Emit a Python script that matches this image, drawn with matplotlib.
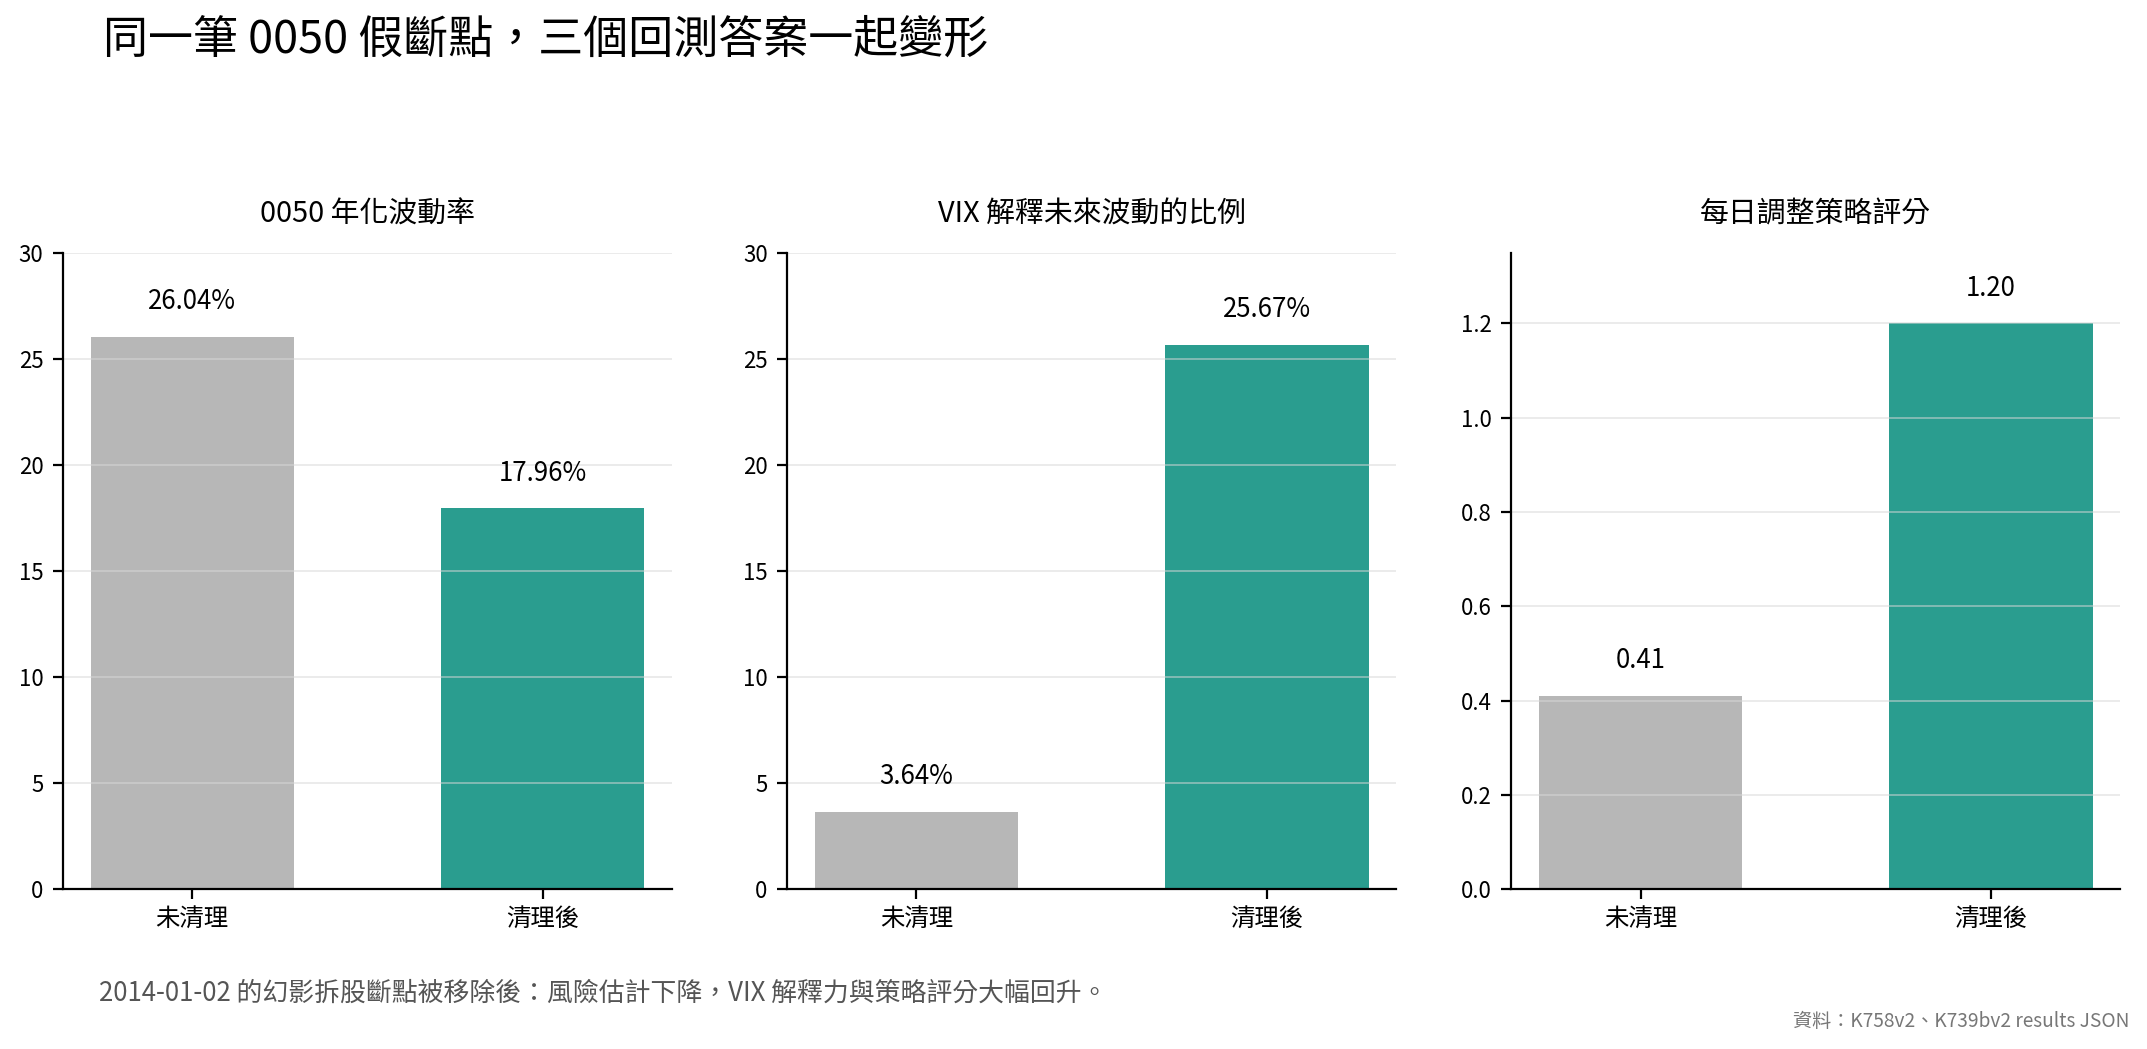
import matplotlib
matplotlib.use("Agg")
import matplotlib.pyplot as plt

plt.rcParams["font.family"] = ["Noto Sans CJK TC", "DejaVu Sans"]

# data
groups = ["未清理", "清理後"]
panel_titles = ["0050 年化波動率", "VIX 解釋未來波動的比例", "每日調整策略評分"]
vol = [26.04, 17.96]
vix_share = [3.64, 25.67]
score = [0.41, 1.20]
colors = ["#b7b7b7", "#2a9d8f"]

panels = [
    (vol, "{:.2f}%", (0, 30), [0, 5, 10, 15, 20, 25, 30], "{:.0f}"),
    (vix_share, "{:.2f}%", (0, 30), [0, 5, 10, 15, 20, 25, 30], "{:.0f}"),
    (score, "{:.2f}", (0, 1.35), [0, 0.2, 0.4, 0.6, 0.8, 1.0, 1.2], "{:.1f}"),
]

fig = plt.figure(figsize=(10.735, 5.245), dpi=200)
left, width, gap = 0.0293, 0.2837, 0.0536
bottom, height = 0.1525, 0.6065

for i, (vals, fmt, ylim, ticks, tfmt) in enumerate(panels):
    ax = fig.add_axes([left + i * (width + gap), bottom, width, height])
    x = range(len(groups))
    ax.bar(x, vals, width=0.58, color=colors)
    ax.set_ylim(*ylim)
    ax.set_yticks(ticks)
    ax.set_yticklabels([tfmt.format(t) for t in ticks], fontsize=8)
    ax.set_xticks(list(x))
    ax.set_xticklabels(groups, fontsize=8.8)
    ax.tick_params(axis="x", pad=3)
    ax.grid(axis="y", color="#d8d8d8", alpha=0.5, linewidth=0.7)
    ax.spines[["top", "right"]].set_visible(False)
    ax.set_title(panel_titles[i], fontsize=10.4, pad=11)
    off = (ylim[1] - ylim[0]) * 0.055
    for xi, v in zip(x, vals):
        ax.text(xi, v + off, fmt.format(v), ha="center", va="center", fontsize=9.3)

fig.text(0.048, 0.962, "同一筆 0050 假斷點，三個回測答案一起變形",
         fontsize=16.2, ha="left", va="center", weight="medium")
fig.text(0.046, 0.053, "2014-01-02 的幻影拆股斷點被移除後：風險估計下降，VIX 解釋力與策略評分大幅回升。",
         fontsize=9.3, color="#555555", ha="left", va="center")
fig.text(0.992, 0.026, "資料：K758v2、K739bv2 results JSON",
         fontsize=6.9, color="#777777", ha="right", va="center")

fig.savefig("out.png", dpi=200)
